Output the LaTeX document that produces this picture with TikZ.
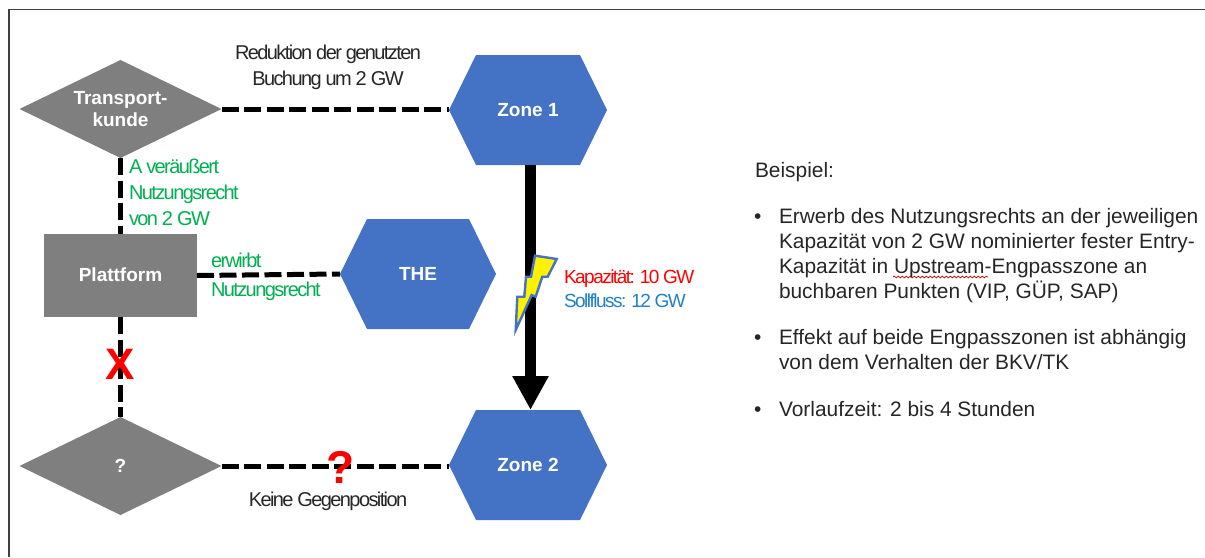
\documentclass[tikz,border=0pt]{standalone}
\usepackage{fontspec}
\setmainfont{Liberation Sans}
\newfontfamily\tightfont[LetterSpace=-8]{Liberation Sans}
\usetikzlibrary{arrows.meta,decorations.pathmorphing}
\definecolor{shapegray}{HTML}{7F7F7F}
\definecolor{zoneblue}{HTML}{4472C4}
\definecolor{labelgreen}{HTML}{00B050}
\definecolor{labelblue}{HTML}{1F80C8}
\definecolor{bodyink}{HTML}{262626}
\tikzset{
  x=1pt,y=-1pt,
  shapebase/.style={inner sep=0pt,outer sep=0pt,text=white,align=center,
    font=\fontsize{19}{23.5}\selectfont\bfseries},
  diamondbox/.style={shapebase,minimum width=202pt,minimum height=98pt,
    path picture={\fill[shapegray] (path picture bounding box.west)--(path picture bounding box.north)--(path picture bounding box.east)--(path picture bounding box.south)--cycle;}},
  hexbox/.style={shapebase,minimum width=158pt,minimum height=110pt,
    path picture={\fill[zoneblue] (path picture bounding box.west)--([xshift=27pt]path picture bounding box.north west)--([xshift=-27pt]path picture bounding box.north east)--(path picture bounding box.east)--([xshift=-27pt]path picture bounding box.south east)--([xshift=27pt]path picture bounding box.south west)--cycle;}},
  platebox/.style={shapebase,fill=shapegray,minimum width=153pt,minimum height=83pt},
  dashline/.style={line width=5pt,black,dash pattern=on 17pt off 5.5pt},
  note/.style={inner sep=0pt,outer sep=0pt,align=center,text=bodyink,
    font=\fontsize{20}{26}\tightfont},
  greennote/.style={note,align=left,text=labelgreen},
  flownote/.style={note,align=left,anchor=north west,font=\fontsize{19}{24}\tightfont},
  body/.style={inner sep=0pt,outer sep=0pt,align=left,text=bodyink,anchor=north west,
    font=\fontsize{20.9}{25.2}\selectfont},
  bullet/.style={inner sep=0pt,outer sep=0pt,text=bodyink,anchor=base west,
    font=\fontsize{20.9}{25.2}\selectfont},
}
\begin{document}
\begin{tikzpicture}
\useasboundingbox (0,0) rectangle (1205,557);
\draw[line width=1.2pt,black!75] (1205,9.5) -- (9,9.5) -- (9,557);
% shapes
\node[diamondbox] (tk) at (120.5,109) {\raisebox{-1.5pt}{Transport-}\\kunde};
\node[diamondbox] (unk) at (120.5,466) {?};
\node[platebox] (pf) at (120.5,275.5) {\raisebox{0.8pt}{Plattform}};
\node[hexbox] (z1) at (528,110) {Zone 1};
\node[hexbox] (z2) at (528,465) {Zone 2};
\node[hexbox,minimum width=156pt] (the) at (418,274) {THE};
% connectors
\draw[dashline] (tk.east) -- (tk.east -| z1.west);
\draw[dashline] (tk.south) -- (pf.north);
\draw[dashline] (pf.east) -- (the.west);
\draw[dashline] (pf.south) -- (unk.north);
\draw[dashline] (unk.east) -- (unk.east -| z2.west);
\draw[line width=11pt,-{Triangle[length=34pt,width=34pt]}] ([xshift=2.5pt]z1.south) -- ([xshift=2.5pt]z2.north);
% lightning
\filldraw[fill=yellow,draw=zoneblue,line width=2.4pt,line join=miter]
  (535,255.7) -- (556.7,259) -- (547.7,276.7) -- (542.3,276.7) -- (535.7,296.7) -- (531.7,295) -- (515.7,330) -- (517.3,296.7) -- (524.3,296.7) -- (526,276.7) -- (531,276.7) -- cycle;
% marks
\node[inner sep=0pt,text=red,font=\fontsize{44}{44}\selectfont\bfseries] (xmark) at (120.5,364) {X};
\node[inner sep=0pt,text=red,font=\fontsize{46}{46}\selectfont\bfseries] (qmark) at (340.5,467) {?};
% labels
\node[note] (redu) at (328,67) {Reduktion der genutzten\\Buchung um 2 GW};
\node[greennote,anchor=north west] (sell) at (129,159) {A veräußert\\Nutzungsrecht\\von 2 GW};
\node[greennote,anchor=north west] (buy) at (211,253) {erwirbt\\[3pt]Nutzungsrecht};
\node[flownote,text=red] (kap) at (564,270) {Kapazität: 10 GW};
\node[flownote,text=labelblue] (soll) at (564,294) {Sollfluss: 12 GW};
\node[note] (keine) at (328,501) {Keine Gegenposition};
% body text
\node[body] (bsp) at (755,162) {Beispiel:};
\node[bullet] (b1) at (754,223) {•};
\node[body] (t1) at (779,208) {Erwerb des Nutzungsrechts an der jeweiligen\\Kapazität von 2 GW nominierter fester Entry-\\Kapazität in Upstream-Engpasszone an\\buchbaren Punkten (VIP, GÜP, SAP)};
\node[bullet] (b2) at (754,344) {•};
\node[body] (t2) at (779,329) {Effekt auf beide Engpasszonen ist abhängig\\von dem Verhalten der BKV/TK};
\node[bullet] (b3) at (754,416) {•};
\node[body] (t3) at (779,401) {Vorlaufzeit: 2 bis 4 Stunden};
\draw[red!80!black,line width=0.7pt,decorate,decoration={snake,amplitude=0.9pt,segment length=4pt}] (893,277) -- (988,277);
\end{tikzpicture}
\end{document}
